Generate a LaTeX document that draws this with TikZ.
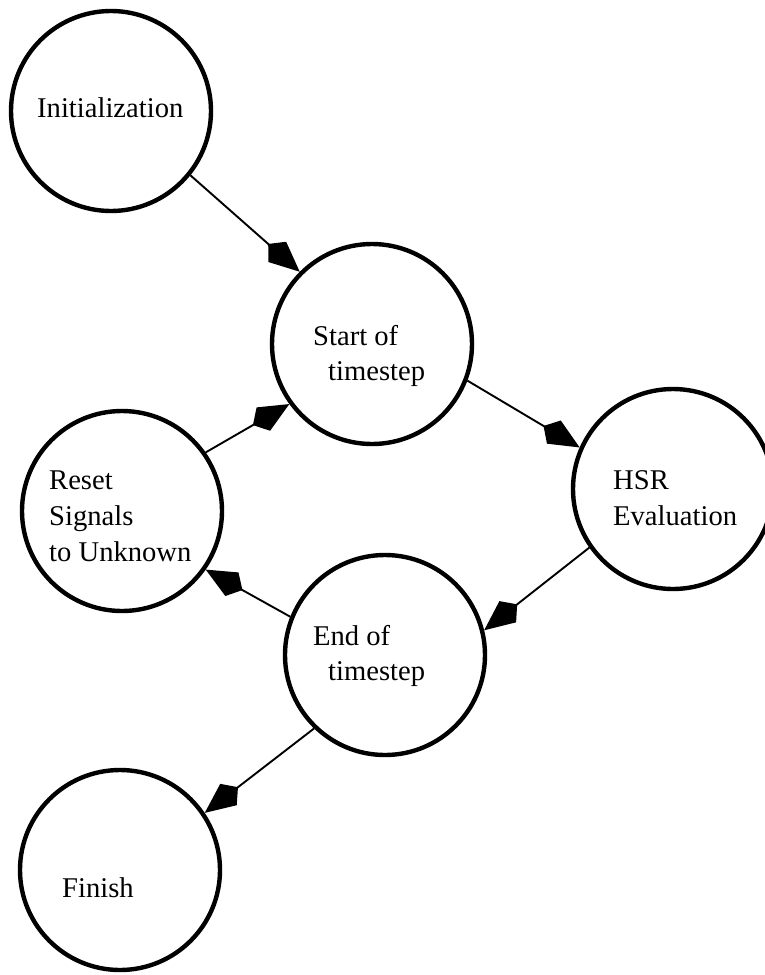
\documentclass[tikz,border=0pt]{standalone}
\usepackage{fontspec}
\setmainfont{Liberation Serif}
\usetikzlibrary{arrows.meta}

\tikzset{
  state/.style={draw, circle, line width=4.4pt, minimum size=200pt, inner sep=0pt},
  lbl/.style={anchor=base west, inner sep=0pt, font=\fontsize{28.6pt}{34pt}\selectfont},
  flow/.style={line width=1.9pt, -{Kite[length=42pt,width=27pt,inset=12pt]}}
}

\begin{document}
\begin{tikzpicture}[x=1pt, y=-1pt]
  \useasboundingbox (0,0) rectangle (765,975);

  % states
  \node[state] (init)  at (111,111) {};
  \node[state] (start) at (372,344) {};
  \node[state] (hsr)   at (673,489) {};
  \node[state] (reset) at (122,511) {};
  \node[state] (end)   at (385,655) {};
  \node[state] (fin)   at (120,870) {};

  % state texts
  \node[lbl] (tInit)   at (37,117)  {Initialization};
  \node[lbl] (tStartA) at (313,345) {Start of};
  \node[lbl] (tStartB) at (328,380) {timestep};
  \node[lbl] (tHsrA)   at (613,489) {HSR};
  \node[lbl] (tHsrB)   at (613,525) {Evaluation};
  \node[lbl] (tResA)   at (49,489)  {Reset};
  \node[lbl] (tResB)   at (49,525)  {Signals};
  \node[lbl] (tResC)   at (49,561)  {to Unknown};
  \node[lbl] (tEndA)   at (313,645) {End of};
  \node[lbl] (tEndB)   at (328,680) {timestep};
  \node[lbl] (tFin)    at (62,897)  {Finish};

  % transitions
  \draw[flow] (init.-39)  -- (start.135);
  \draw[flow] (start.-21) -- (hsr.156);
  \draw[flow] (hsr.215)   -- (end.14);
  \draw[flow] (end.158)   -- (reset.-35);
  \draw[flow] (reset.35)  -- (start.216);
  \draw[flow] (end.226)   -- (fin.34);
\end{tikzpicture}
\end{document}
